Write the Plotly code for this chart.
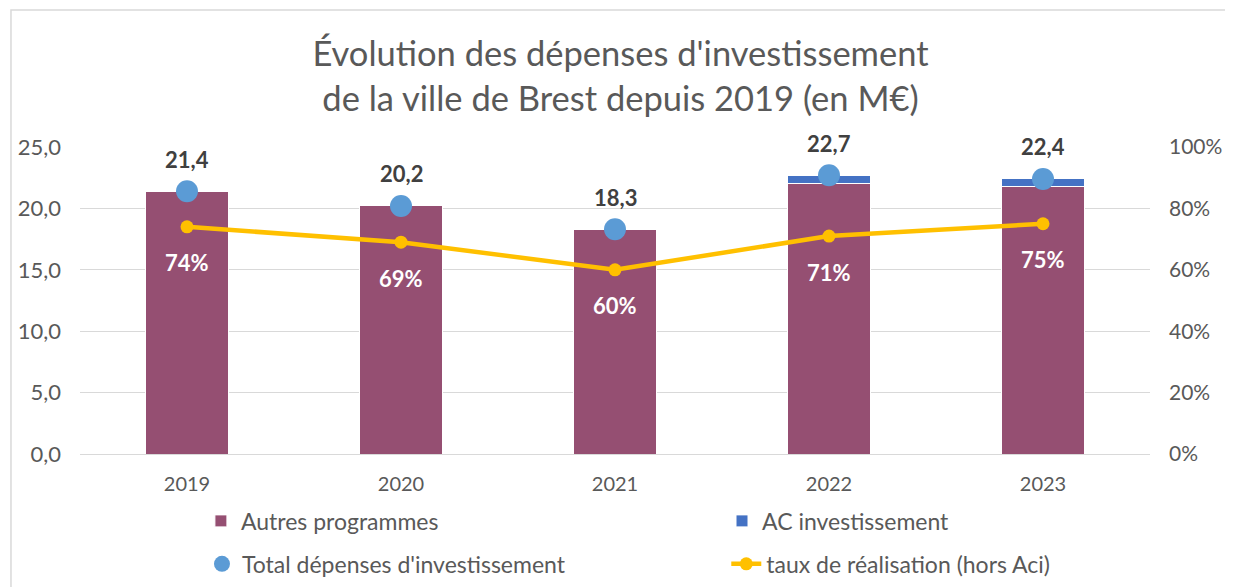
import plotly.graph_objects as go

years = ["2019", "2020", "2021", "2022", "2023"]
autres = [21.4, 20.2, 18.3, 22.0, 21.8]
ac_invest = [0.0, 0.0, 0.0, 0.7, 0.6]
total = [21.4, 20.2, 18.3, 22.7, 22.4]
taux = [0.74, 0.69, 0.60, 0.71, 0.75]
total_labels = ["21,4", "20,2", "18,3", "22,7", "22,4"]
taux_labels = ["74%", "69%", "60%", "71%", "75%"]

FONT = "Lato"
GRAY = "#595959"

fig = go.Figure()
fig.add_trace(go.Bar(x=years, y=autres, name="Autres programmes", showlegend=True,
                     marker=dict(color="#954F72", line=dict(color="white", width=1)),
                     width=0.39, legend="legend"))
fig.add_trace(go.Bar(x=years, y=ac_invest, name="AC investissement", showlegend=True,
                     marker=dict(color="#4472C4", line=dict(color="white", width=1)),
                     width=0.39, legend="legend2"))
fig.add_trace(go.Scatter(x=years, y=total, mode="markers", name="Total dépenses d'investissement",
                         showlegend=True,
                         marker=dict(color="#5B9BD5", size=22), legend="legend3"))
fig.add_trace(go.Scatter(x=years, y=taux, mode="lines+markers", name="taux de réalisation (hors Aci)",
                         showlegend=True,
                         line=dict(color="#FFC000", width=4.5), marker=dict(color="#FFC000", size=13),
                         yaxis="y2", legend="legend4"))

# category axis: annotations use the category index
for i, (y, t) in enumerate(zip(total, total_labels)):
    fig.add_annotation(x=i, y=y, text=f"<b>{t}</b>", showarrow=False, yshift=32,
                       font=dict(family=FONT, size=22, color="#404040"))
for i, (y, t) in enumerate(zip(taux, taux_labels)):
    fig.add_annotation(x=i, y=y, yref="y2", text=f"<b>{t}</b>", showarrow=False, yshift=-36,
                       font=dict(family=FONT, size=22, color="white"))

fig.add_shape(type="rect", xref="paper", yref="paper", x0=-0.0645, x1=1.0729, y0=-0.6, y1=1.446,
              line=dict(color="#D9D9D9", width=1.5), fillcolor="rgba(0,0,0,0)", layer="below")

def leg(x, y):
    return dict(orientation="h", x=x, xanchor="left", y=y, yanchor="middle", visible=True,
                font=dict(size=23, color=GRAY), bgcolor="rgba(0,0,0,0)")

fig.update_layout(
    width=1225, height=579,
    showlegend=True,
    margin=dict(l=72, r=83, t=139, b=133, autoexpand=False),
    paper_bgcolor="white", plot_bgcolor="white",
    separators=", ",
    barmode="stack",
    font=dict(family=FONT, color=GRAY, size=20),
    title=dict(text="Évolution des dépenses d'investissement<br>de la ville de Brest depuis 2019 (en M€)",
               x=0.5, xanchor="center", y=0.90, yanchor="top",
               font=dict(family=FONT, size=34.5, color=GRAY)),
    xaxis=dict(type="category", range=[-0.5, 4.5], showgrid=False, showline=True,
               linecolor="#D9D9D9", ticks="", ticklabelstandoff=12,
               tickfont=dict(size=20, color=GRAY)),
    yaxis=dict(range=[0, 25], dtick=5, tickformat=".1f", gridcolor="#D9D9D9", zeroline=False,
               tickfont=dict(size=22, color=GRAY), ticks="", ticklabelstandoff=18),
    yaxis2=dict(range=[0, 1], dtick=0.2, tickformat=".0%", overlaying="y", side="right",
                showgrid=False, zeroline=False, ticks="", ticklabelstandoff=18,
                tickfont=dict(size=21, color=GRAY)),
    legend=leg(0.113, -0.218),
    legend2=leg(0.600, -0.218),
    legend3=leg(0.114, -0.358),
    legend4=leg(0.604, -0.358),
)

fig.write_html("out.html")
